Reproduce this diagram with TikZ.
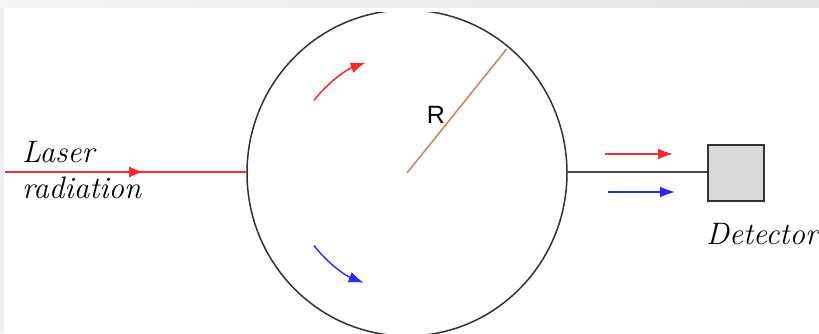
\documentclass[tikz,border=0pt]{standalone}
\usepackage{fontspec}
\newfontfamily\rfont{Liberation Sans}
\usetikzlibrary{arrows.meta,calc}
\definecolor{laserred}{RGB}{255,40,40}
\definecolor{beamblue}{RGB}{40,40,255}
\definecolor{rbrown}{RGB}{200,140,100}
\definecolor{rimgray}{RGB}{50,50,50}
\definecolor{boxfill}{RGB}{217,217,217}
\tikzset{
  rim/.style={draw=rimgray, line width=1.5pt},
  laser/.style={draw=laserred, line width=1.5pt},
  tipstyle/.style={-{Latex[length=15pt,width=11pt]}},
  redflow/.style={draw=laserred, line width=1.5pt, tipstyle},
  blueflow/.style={draw=beamblue, line width=1.4pt, tipstyle},
  radius line/.style={draw=rbrown, line width=1.6pt},
  link/.style={draw=rimgray!90, line width=1.5pt},
  detbox/.style={draw=rimgray, fill=boxfill, line width=1.8pt, minimum width=56pt, minimum height=56pt, inner sep=0pt},
  label/.style={font=\fontsize{31}{36}\selectfont\itshape, anchor=base west, inner sep=0pt},
  rlabel/.style={font=\rfont\fontsize{25}{28}\selectfont, inner sep=0pt}
}
\begin{document}
\begin{tikzpicture}[x=1pt,y=1pt]
\useasboundingbox (0,0) rectangle (819,333);
% background
\shade[left color=black!4, right color=black!11] (0,325) rectangle (819,333);
\fill[black!6] (0,0) rectangle (4,325);
\fill[white] (4,0) rectangle (819,325);
% circle
\coordinate (c) at (407,160);
\begin{scope}
  \clip (0,0) rectangle (819,320);
  \draw[rim] (c) ellipse [x radius=160pt, y radius=163pt];
\end{scope}
% laser input
\coordinate (ls) at (5,161);
\coordinate (ltip) at (144,161);
\coordinate (cl) at (247,161);
\draw[laser] (ls) -- (cl);
\draw[laser, tipstyle] (ls) -- (ltip);
\node[label] (laser) at (22,171) {Laser};
\node[label] (radiation) at (22,135) {radiation};
% rotation arrows
\draw[redflow] (c) ++(142:118pt) arc[start angle=142, end angle=110.5, radius=118pt];
\draw[blueflow] (c) ++(-142:118pt) arc[start angle=-142, end angle=-111.5, radius=118pt];
% radius
\coordinate (rim) at ($(c)+(51.2:159pt)$);
\draw[radius line] (c) -- (rim);
\node[rlabel] (R) at (436,218) {R};
% detector
\node[detbox] (det) at (736,160) {};
\coordinate (cr) at (567,161);
\draw[link] (cr) -- (cr -| det.west);
\coordinate (ra1) at (605,179);
\coordinate (ra2) at (673,179);
\coordinate (ba1) at (608,141);
\coordinate (ba2) at (675,141);
\draw[redflow] (ra1) -- (ra2);
\draw[blueflow] (ba1) -- (ba2);
\node[label] (detector) at (706,89) {Detector};
\end{tikzpicture}
\end{document}
